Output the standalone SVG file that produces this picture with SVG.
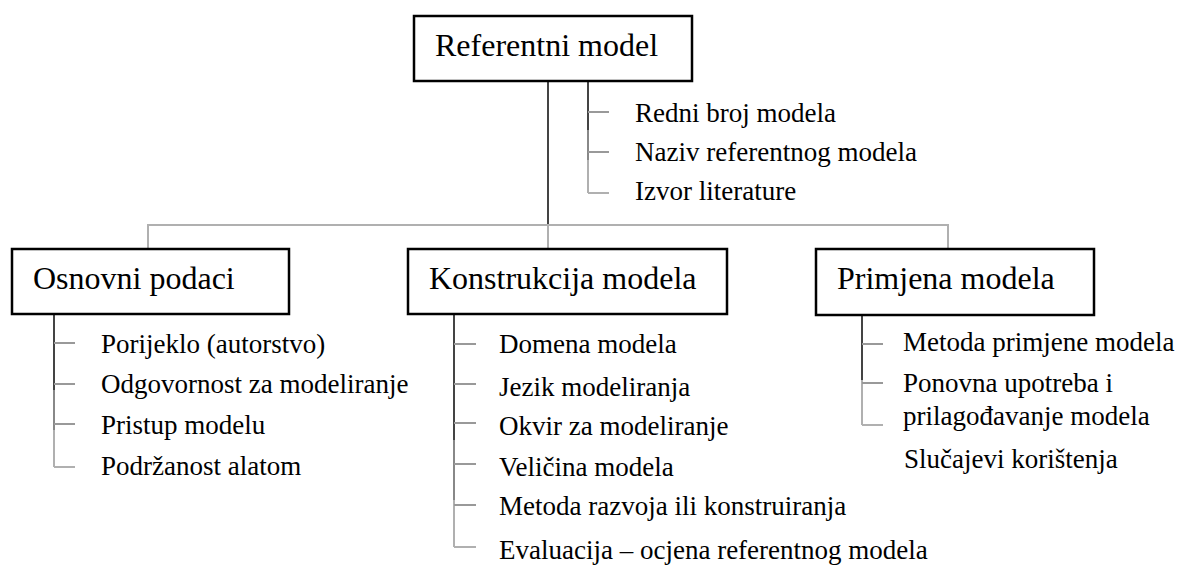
<svg xmlns="http://www.w3.org/2000/svg" width="1184" height="567" viewBox="0 0 1184 567">
<style>
.box{fill:#fff;stroke:#000;stroke-width:2.5}
.h{font-family:"Liberation Serif","Times New Roman",serif;font-size:32px;fill:#000}
.t{font-family:"Liberation Serif","Times New Roman",serif;font-size:27px;fill:#000}
.dk{stroke:#444;stroke-width:2;fill:none}
.md{stroke:#888;stroke-width:2;fill:none}
.lt{stroke:#b0b0b0;stroke-width:2;fill:none}
.tk{stroke:#999;stroke-width:2;fill:none}
</style>
<rect width="1184" height="567" fill="#fff"/>
<g id="connectors">
  <line class="dk" x1="548" y1="81" x2="548" y2="225"/>
  <polyline class="lt" points="148,249 148,225 948,225 948,249"/>
  <line class="lt" x1="548" y1="225" x2="548" y2="249"/>
  <line class="dk" x1="588" y1="81" x2="588" y2="130"/>
  <line class="md" x1="588" y1="130" x2="588" y2="160"/>
  <line class="lt" x1="588" y1="160" x2="588" y2="193"/>
  <line class="tk" x1="588" y1="112" x2="609" y2="112"/>
  <line class="tk" x1="588" y1="152" x2="609" y2="152"/>
  <line class="lt" x1="588" y1="193" x2="609" y2="193"/>
  <line class="dk" x1="54" y1="314" x2="54" y2="390"/>
  <line class="md" x1="54" y1="390" x2="54" y2="430"/>
  <line class="lt" x1="54" y1="430" x2="54" y2="467"/>
  <line class="tk" x1="54" y1="343" x2="75" y2="343"/>
  <line class="tk" x1="54" y1="384" x2="75" y2="384"/>
  <line class="tk" x1="54" y1="424" x2="75" y2="424"/>
  <line class="lt" x1="54" y1="467" x2="75" y2="467"/>
  <line class="dk" x1="454" y1="314" x2="454" y2="440"/>
  <line class="md" x1="454" y1="440" x2="454" y2="500"/>
  <line class="lt" x1="454" y1="500" x2="454" y2="547"/>
  <line class="tk" x1="454" y1="344" x2="476" y2="344"/>
  <line class="tk" x1="454" y1="384" x2="476" y2="384"/>
  <line class="tk" x1="454" y1="423" x2="476" y2="423"/>
  <line class="tk" x1="454" y1="464" x2="476" y2="464"/>
  <line class="tk" x1="454" y1="505" x2="476" y2="505"/>
  <line class="lt" x1="454" y1="547" x2="476" y2="547"/>
  <line class="dk" x1="862" y1="315" x2="862" y2="380"/>
  <line class="lt" x1="862" y1="380" x2="862" y2="425"/>
  <line class="tk" x1="862" y1="344" x2="883" y2="344"/>
  <line class="tk" x1="862" y1="383" x2="883" y2="383"/>
  <line class="lt" x1="862" y1="425" x2="883" y2="425"/>
</g>
<g id="referentni">
  <rect class="box" x="414" y="16" width="278" height="65"/>
  <text class="h" x="435" y="56">Referentni model</text>
  <text class="t" x="635" y="122">Redni broj modela</text>
  <text class="t" x="635" y="161">Naziv referentnog modela</text>
  <text class="t" x="635" y="200">Izvor literature</text>
</g>
<g id="osnovni">
  <rect class="box" x="12" y="249" width="277" height="65"/>
  <text class="h" x="33" y="289">Osnovni podaci</text>
  <text class="t" x="101" y="353">Porijeklo (autorstvo)</text>
  <text class="t" x="101" y="393">Odgovornost za modeliranje</text>
  <text class="t" x="101" y="434">Pristup modelu</text>
  <text class="t" x="101" y="475">Podržanost alatom</text>
</g>
<g id="konstrukcija">
  <rect class="box" x="408" y="249" width="319" height="65"/>
  <text class="h" x="429" y="289">Konstrukcija modela</text>
  <text class="t" x="499" y="353">Domena modela</text>
  <text class="t" x="499" y="396">Jezik modeliranja</text>
  <text class="t" x="499" y="435">Okvir za modeliranje</text>
  <text class="t" x="499" y="476">Veličina modela</text>
  <text class="t" x="499" y="515">Metoda razvoja ili konstruiranja</text>
  <text class="t" x="499" y="559">Evaluacija – ocjena referentnog modela</text>
</g>
<g id="primjena">
  <rect class="box" x="816" y="249" width="278" height="66"/>
  <text class="h" x="837" y="289">Primjena modela</text>
  <text class="t" x="903" y="351">Metoda primjene modela</text>
  <text class="t" x="903" y="392">Ponovna upotreba i</text>
  <text class="t" x="903" y="425">prilagođavanje modela</text>
  <text class="t" x="904" y="468">Slučajevi korištenja</text>
</g>
</svg>
